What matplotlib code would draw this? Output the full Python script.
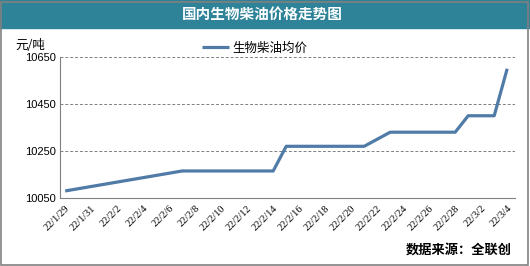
import numpy as np
import matplotlib.pyplot as plt
from matplotlib.patches import Rectangle
import datetime as dt

plt.rcParams['font.family'] = ['Noto Sans CJK SC', 'DejaVu Sans']

# data (yuan / ton)
dates = ["2022-01-29", "2022-02-07", "2022-02-14", "2022-02-15", "2022-02-21",
         "2022-02-23", "2022-02-28", "2022-03-01", "2022-03-03", "2022-03-04"]
prices = [10080, 10165, 10165, 10270, 10270, 10330, 10330, 10400, 10400, 10600]
y_ticks = [10050, 10250, 10450, 10650]

start = dt.date(2022, 1, 29)
day_idx = [(dt.date.fromisoformat(d) - start).days for d in dates]
tick_days = list(range(0, 35, 2))
tick_labels = []
for d in tick_days:
    t = start + dt.timedelta(days=d)
    tick_labels.append(f"22/{t.month}/{t.day}")

fig = plt.figure(figsize=(5.3, 2.66), dpi=100)

# title bar
fig.patches.append(Rectangle((0, 1 - 28/266), 1, 28/266, transform=fig.transFigure,
                             color='#2F8399', zorder=0))
fig.text(0.495, 1 - 14/266, "国内生物柴油价格走势图", color='white', fontsize=10.5,
         fontweight='bold', ha='center', va='center')
# outer border
fig.patches.append(Rectangle((0.002, 0.004), 0.994, 0.99, transform=fig.transFigure,
                             fill=False, edgecolor='#808080', linewidth=1.2))

ax = fig.add_axes([60/530, 1 - 198/266, 455/530, 141/266])
ax.plot(day_idx, prices, color='#4F7BA6', linewidth=2.3, solid_capstyle='butt',
        label='生物柴油均价')
ax.set_xlim(-0.4, 34.6)
ax.set_ylim(10050, 10650)
ax.set_yticks(y_ticks)
ax.set_yticklabels([str(v) for v in y_ticks], fontsize=8, family=['Liberation Sans'])
ax.set_xticks(tick_days)
ax.set_xticklabels(tick_labels, rotation=45, ha='right', rotation_mode='anchor',
                   fontsize=7.5, family=['Liberation Serif'])
ax.tick_params(length=0, pad=3)
ax.tick_params(axis='x', pad=4)
for v in y_ticks[1:]:
    ax.axhline(v, color='#808080', linestyle=(0, (3, 2)), linewidth=0.7, zorder=0)
for s in ['top', 'right']:
    ax.spines[s].set_visible(False)
ax.spines['left'].set_color('#808080')
ax.spines['bottom'].set_color('#808080')

fig.text(15/530, 1 - 46/266, "元/吨", fontsize=9, va='center', ha='left')
fig.legend(loc='center', bbox_to_anchor=(0.48, 1 - 48/266), frameon=False,
           fontsize=9, handlelength=2.2, handletextpad=0.2)
fig.text(512/530, 1 - 250/266, "数据来源：全联创", fontsize=9.5, fontweight='bold',
         ha='right', va='center')

fig.savefig("out.png", dpi=100)
